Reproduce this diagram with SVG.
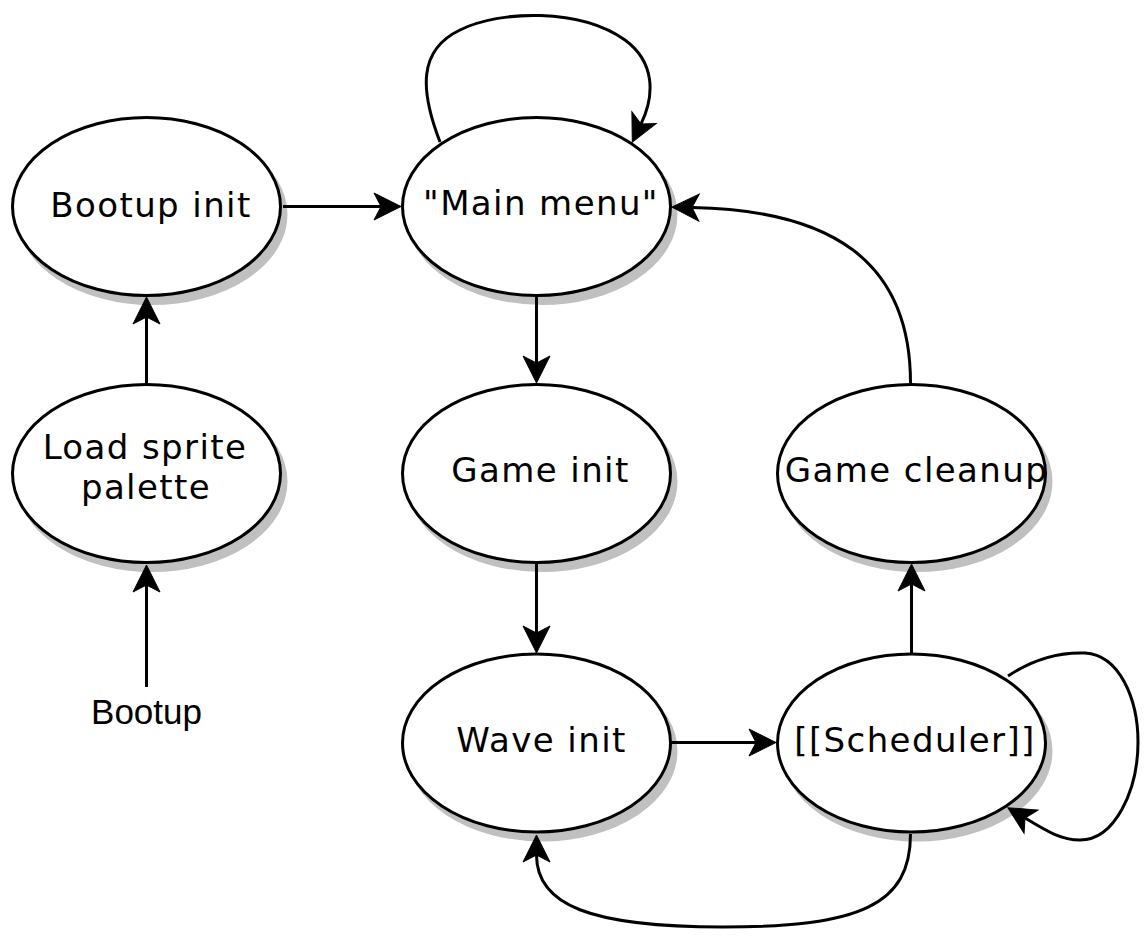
<svg xmlns="http://www.w3.org/2000/svg" width="1148" height="941" viewBox="0 0 1148 941">
<style>
.shadow{fill:#c0c0c0;stroke:#c0c0c0;stroke-width:3}
.node{fill:#fff;stroke:#000;stroke-width:3}
.lbl{font-family:"DejaVu Sans",Verdana,sans-serif;font-size:34px;letter-spacing:1.4px;fill:#000;text-anchor:middle}
.plain{font-family:"Liberation Sans",Arial,sans-serif;font-size:35px;fill:#000;text-anchor:middle}
.edge{fill:none;stroke:#000;stroke-width:3;marker-end:url(#arr)}
</style>
<defs>
<marker id="arr" markerUnits="userSpaceOnUse" markerWidth="40" markerHeight="40" viewBox="-30 -20 40 40" refX="-20" refY="0" orient="auto" overflow="visible">
<path d="M0,0 L-27,-13.5 L-20,0 L-27,13.5 Z" fill="#000" stroke="#000" stroke-width="1"/>
</marker>
</defs>
<rect width="1148" height="941" fill="#fff"/>

<g id="node-bootup-init">
<ellipse class="shadow" cx="152" cy="214.5" rx="134" ry="89"/>
<ellipse class="node" cx="146.5" cy="206.5" rx="134" ry="89"/>
<text class="lbl" x="151" y="217">Bootup init</text>
</g>
<g id="node-main-menu">
<ellipse class="shadow" cx="542" cy="214.5" rx="134" ry="89"/>
<ellipse class="node" cx="536.5" cy="206.5" rx="134" ry="89"/>
<text class="lbl" x="541" y="215">"Main menu"</text>
</g>
<g id="node-load-sprite-palette">
<ellipse class="shadow" cx="152" cy="481.5" rx="134" ry="89"/>
<ellipse class="node" cx="146.5" cy="473.5" rx="134" ry="89"/>
<text class="lbl" x="145" y="459">Load sprite</text>
<text class="lbl" x="146" y="499">palette</text>
</g>
<g id="node-game-init">
<ellipse class="shadow" cx="542" cy="481.5" rx="134" ry="89"/>
<ellipse class="node" cx="536.5" cy="473.5" rx="134" ry="89"/>
<text class="lbl" x="540.5" y="482">Game init</text>
</g>
<g id="node-game-cleanup">
<ellipse class="shadow" cx="917" cy="481.5" rx="134" ry="89"/>
<ellipse class="node" cx="911.5" cy="473.5" rx="134" ry="89"/>
<text class="lbl" x="916.5" y="482">Game cleanup</text>
</g>
<g id="node-wave-init">
<ellipse class="shadow" cx="542" cy="751" rx="134" ry="89"/>
<ellipse class="node" cx="536.5" cy="743" rx="134" ry="89"/>
<text class="lbl" x="541.5" y="752">Wave init</text>
</g>
<g id="node-scheduler">
<ellipse class="shadow" cx="917" cy="751" rx="134" ry="89"/>
<ellipse class="node" cx="911.5" cy="743" rx="134" ry="89"/>
<text class="lbl" x="915" y="752">[[Scheduler]]</text>
</g>
<g id="node-bootup">
<text class="plain" x="146.5" y="724">Bootup</text>
</g>

<g id="connectors">
<path class="edge" d="M283,206.5 L381,206.5"/>
<path class="edge" d="M146.5,383 L146.5,317"/>
<path class="edge" d="M146.5,687 L146.5,585"/>
<path class="edge" d="M536.5,297 L536.5,363"/>
<path class="edge" d="M536.5,564 L536.5,633"/>
<path class="edge" d="M671,742.5 L756,742.5"/>
<path class="edge" d="M911.5,653 L911.5,584"/>
<path class="edge" d="M910.5,383 C910.5,260 830,210 692,207.5"/>
<path class="edge" d="M910.5,834 C910.5,905 860,927 723,927 C590,927 536.5,905 536.5,855"/>
<path class="edge" d="M440,142 C420,90 418,50 460,30 C500,10 580,8 625,40 C655,62 655,95 641,124"/>
<path class="edge" d="M1008,676 C1035,658 1060,652 1085,653 C1120,655 1138,700 1138,742 C1138,790 1115,840 1080,840 C1060,840 1045,830 1025,818"/>
</g>
</svg>
